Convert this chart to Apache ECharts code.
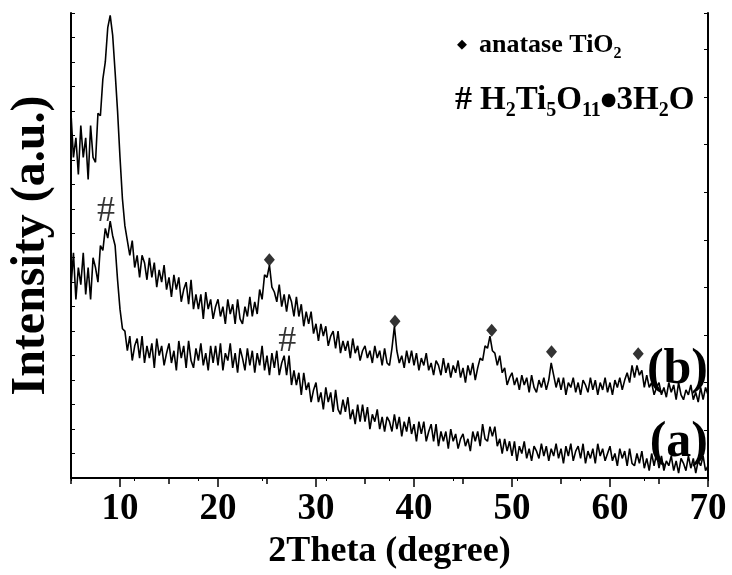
<!DOCTYPE html>
<html>
<head>
<meta charset="utf-8">
<script src="https://cdn.jsdelivr.net/npm/echarts@6.0.0/dist/echarts.min.js"></script>
<style>
  html, body { margin: 0; padding: 0; background: #fff; }
  #main { width: 732px; height: 575px; }
</style>
</head>
<body>
<div id="main"></div>
<script>
// XRD scan, 2theta from 5 to 70 deg, step 0.25 (a.u.)
var thetaStart = 5;
var thetaStep = 0.25;

// (b) upper pattern
var sampleB = [
  14.9, 13.1, 13.9, 12.4, 14.4, 13.1, 13.9, 12.2, 14.4, 13.1, 12.9, 14.9, 14.8, 16.3, 17.0, 18.4, 18.9, 18.1, 16.6, 15.0,
  13.1, 11.4, 10.3, 9.7, 9.1, 9.7, 8.6, 9.1, 8.2, 9.1, 8.8, 8.1, 9.0, 8.2, 8.8, 7.8, 8.5, 8.0, 8.7, 7.7,
  8.2, 7.4, 8.3, 7.7, 8.2, 7.2, 7.7, 8.0, 7.1, 8.1, 6.9, 7.5, 6.9, 7.5, 6.5, 7.6, 6.9, 7.3, 6.5, 7.0,
  7.3, 6.6, 7.0, 6.3, 7.3, 6.7, 7.1, 6.3, 7.3, 6.5, 6.3, 7.0, 6.6, 7.4, 6.6, 7.2, 6.7, 7.7, 7.3, 8.3,
  8.2, 8.7, 7.8, 7.6, 7.2, 7.9, 7.0, 7.5, 6.8, 7.5, 7.2, 6.6, 7.4, 6.6, 7.1, 6.2, 6.8, 6.3, 6.8, 5.9,
  6.3, 5.6, 6.3, 5.8, 6.2, 5.4, 5.8, 6.0, 5.3, 6.0, 5.1, 5.6, 5.2, 5.6, 4.9, 5.7, 5.1, 5.4, 4.8, 5.2,
  5.4, 4.9, 5.2, 4.7, 5.4, 4.9, 5.2, 4.6, 5.3, 4.7, 4.6, 5.3, 6.2, 5.2, 4.7, 5.0, 4.5, 5.2, 4.7, 5.2,
  4.6, 5.1, 4.4, 4.9, 4.6, 5.1, 4.4, 4.7, 4.2, 4.8, 4.6, 4.2, 4.9, 4.3, 4.7, 4.1, 4.6, 4.3, 4.8, 4.1,
  4.5, 3.9, 4.6, 4.2, 4.7, 4.0, 4.5, 4.9, 4.8, 5.4, 5.3, 5.8, 5.2, 5.1, 4.6, 5.0, 4.3, 4.5, 3.8, 4.1,
  4.3, 3.8, 4.1, 3.6, 4.2, 3.8, 4.1, 3.5, 4.2, 3.7, 3.5, 4.0, 3.7, 4.1, 3.6, 4.0, 4.7, 4.2, 3.7, 4.1,
  3.6, 4.1, 3.4, 3.9, 3.7, 4.1, 3.5, 3.9, 3.4, 4.0, 3.8, 3.5, 4.1, 3.6, 4.0, 3.4, 3.9, 3.6, 4.1, 3.5,
  3.9, 3.4, 4.0, 3.7, 4.1, 3.6, 4.0, 4.3, 3.9, 4.6, 4.1, 4.6, 4.2, 4.4, 3.7, 4.2, 3.7, 3.9, 3.4, 3.7,
  3.9, 3.4, 3.7, 3.3, 3.9, 3.5, 3.8, 3.2, 3.9, 3.4, 3.2, 3.6, 3.4, 3.8, 3.2, 3.5, 3.1, 3.7, 3.2, 3.7,
  3.4
];

// (a) lower pattern
var sampleA = [
  7.8, 9.2, 7.3, 8.6, 7.9, 9.2, 7.5, 8.6, 7.3, 9.0, 8.6, 8.0, 9.5, 9.3, 10.2, 9.8, 10.5, 9.9, 9.5, 8.1,
  6.9, 6.1, 6.0, 5.2, 5.8, 4.8, 5.4, 5.7, 4.9, 5.8, 4.7, 5.4, 4.9, 5.5, 4.5, 5.7, 5.0, 5.4, 4.6, 5.1,
  5.5, 4.7, 5.2, 4.4, 5.6, 4.9, 5.4, 4.5, 5.6, 4.8, 4.5, 5.3, 4.8, 5.5, 4.6, 5.1, 4.4, 5.4, 4.7, 5.4,
  4.6, 5.5, 4.4, 5.1, 4.8, 5.5, 4.5, 5.1, 4.3, 5.3, 4.9, 4.4, 5.3, 4.6, 5.2, 4.3, 5.1, 4.6, 5.4, 4.4,
  5.0, 4.2, 5.1, 4.5, 5.2, 4.2, 4.7, 5.0, 4.2, 5.0, 3.8, 4.4, 3.8, 4.3, 3.4, 4.3, 3.6, 3.9, 3.1, 3.6,
  3.9, 3.1, 3.5, 2.8, 3.7, 3.1, 3.5, 2.7, 3.6, 2.8, 2.6, 3.2, 2.7, 3.3, 2.4, 2.8, 2.2, 3.0, 2.3, 3.0,
  2.3, 2.9, 2.0, 2.6, 2.3, 2.8, 2.0, 2.5, 1.9, 2.5, 2.3, 1.9, 2.6, 2.0, 2.5, 1.7, 2.3, 1.9, 2.5, 1.8,
  2.2, 1.5, 2.3, 1.8, 2.3, 1.5, 1.9, 2.2, 1.5, 2.2, 1.3, 1.9, 1.5, 1.9, 1.2, 2.0, 1.5, 1.8, 1.2, 1.6,
  1.8, 1.3, 1.6, 1.1, 1.9, 1.5, 1.9, 1.3, 2.2, 1.6, 1.5, 2.1, 1.7, 2.1, 1.3, 1.6, 1.0, 1.6, 1.1, 1.5,
  0.9, 1.5, 0.7, 1.3, 1.0, 1.5, 0.8, 1.2, 0.7, 1.3, 1.1, 0.8, 1.4, 0.9, 1.3, 0.7, 1.2, 0.9, 1.4, 0.8,
  1.2, 0.6, 1.3, 0.9, 1.4, 0.7, 1.1, 1.3, 0.8, 1.4, 0.6, 1.1, 0.8, 1.2, 0.6, 1.4, 0.9, 1.2, 0.7, 1.0,
  1.3, 0.7, 1.0, 0.5, 1.2, 0.8, 1.1, 0.5, 1.2, 0.6, 0.5, 1.0, 0.6, 1.1, 0.4, 0.8, 0.3, 1.0, 0.5, 1.0,
  0.4, 0.9, 0.3, 0.7, 0.5, 0.9, 0.3, 0.7, 0.2, 0.8, 0.6, 0.3, 0.9, 0.4, 0.8, 0.2, 0.7, 0.5, 0.9, 0.3,
  0.5
];

// peak markers [2theta, height]
var anatasePeaks = [[25.24, 8.92], [38.06, 6.4], [47.93, 6.04], [54.03, 5.16], [62.88, 5.08]];
var hydratePeaks = [[8.56, 10.9], [27.07, 5.56]];

var xLabels = [10, 20, 30, 40, 50, 60, 70];
var xMinorTicks = [5, 15, 25, 35, 45, 55, 65];

var serif = '"Liberation Serif", "Times New Roman", serif';

function toPairs(vals) {
  return vals.map(function (v, i) {
    return [thetaStart + i * thetaStep, v];
  });
}

var chart = echarts.init(document.getElementById('main'));

// legend-like key in the upper right corner
var richKey = {
  t: { fontSize: 26, fontWeight: 'bold', fontFamily: serif, fill: '#000', lineHeight: 32 },
  s: { fontSize: 16, fontWeight: 'bold', fontFamily: serif, fill: '#000', lineHeight: 16, padding: [18, 0, 0, 0] },
  d: { fontSize: 13, fontFamily: '"DejaVu Sans"', fill: '#000', lineHeight: 32, padding: [0, 12, 0, 2] },
  T: { fontSize: 33, fontWeight: 'bold', fontFamily: serif, fill: '#000', lineHeight: 40 },
  S: { fontSize: 20, fontWeight: 'bold', fontFamily: serif, fill: '#000', lineHeight: 20, padding: [21, 0, 0, 0] },
  h: { fontSize: 34, fontWeight: 'bold', fontFamily: serif, fill: '#000', lineHeight: 40, padding: [0, 8, 0, 0] },
  o: { fontSize: 18, fontFamily: '"DejaVu Sans"', fill: '#000', lineHeight: 40 }
};

chart.setOption({
  animation: false,
  backgroundColor: '#fff',
  grid: { left: 69, right: 24, top: 13, bottom: 88 },
  xAxis: [{
    type: 'value',
    min: 5,
    max: 70,
    position: 'bottom',
    name: '2Theta (degree)',
    nameLocation: 'middle',
    nameGap: 56,
    nameTextStyle: { fontSize: 36, fontWeight: 'bold', fontFamily: serif, color: '#000' },
    axisLine: { lineStyle: { color: '#000', width: 2 } },
    axisTick: { customValues: xLabels, length: 9, lineStyle: { color: '#000', width: 1.5 } },
    axisLabel: { customValues: xLabels, fontSize: 37, fontWeight: 'bold', fontFamily: serif, color: '#000', margin: 13 },
    splitLine: { show: false }
  }, {
    // top frame
    type: 'value',
    min: 0,
    max: 10,
    interval: 1,
    position: 'top',
    axisLine: { lineStyle: { color: '#000', width: 2 } },
    axisTick: { inside: true, length: 3, lineStyle: { color: '#000' } },
    axisLabel: { show: false },
    splitLine: { show: false }
  }, {
    // minor ticks of the bottom axis
    type: 'value',
    min: 5,
    max: 70,
    position: 'bottom',
    axisLine: { show: false },
    axisTick: { customValues: xMinorTicks, length: 6, lineStyle: { color: '#000', width: 1.5 } },
    axisLabel: { show: false },
    splitLine: { show: false }
  }],
  yAxis: [{
    type: 'value',
    min: 0,
    max: 19,
    interval: 1,
    position: 'left',
    name: 'Intensity (a.u.)',
    nameLocation: 'middle',
    nameGap: 15,
    nameRotate: 90,
    nameTextStyle: { fontSize: 48, fontWeight: 'bold', fontFamily: serif, color: '#000' },
    axisLine: { lineStyle: { color: '#000', width: 2 } },
    axisTick: { inside: true, length: 4, lineStyle: { color: '#000' } },
    axisLabel: { show: false },
    splitLine: { show: false }
  }, {
    // right frame
    type: 'value',
    min: 0,
    max: 9.76,
    interval: 1,
    position: 'right',
    axisLine: { lineStyle: { color: '#000', width: 2 } },
    axisTick: { inside: true, length: 4, lineStyle: { color: '#000' } },
    axisLabel: { show: false },
    splitLine: { show: false }
  }],
  series: [{
    name: '(b)',
    type: 'line',
    data: toPairs(sampleB),
    showSymbol: false,
    lineStyle: { color: '#000', width: 1.6 }
  }, {
    name: '(a)',
    type: 'line',
    data: toPairs(sampleA),
    showSymbol: false,
    lineStyle: { color: '#000', width: 1.6 }
  }, {
    name: 'anatase',
    type: 'scatter',
    data: anatasePeaks,
    symbol: 'diamond',
    symbolSize: [11, 13],
    itemStyle: { color: '#000' }
  }, {
    name: 'hydrate',
    type: 'scatter',
    data: hydratePeaks,
    symbolSize: 1,
    itemStyle: { color: 'rgba(0,0,0,0)' },
    label: { show: true, position: 'inside', formatter: '#', fontSize: 36, fontFamily: serif, color: '#000' }
  }],
  graphic: [{
    type: 'text',
    left: 455,
    top: 28,
    style: {
      text: '{d|◆}{t|anatase TiO}{s|2}',
      fontSize: 26, fontWeight: 'bold', fontFamily: serif,
      rich: richKey
    }
  }, {
    type: 'text',
    left: 455,
    top: 80,
    style: {
      text: '{h|#}{T|H}{S|2}{T|Ti}{S|5}{T|O}{S|11}{o|●}{T|3H}{S|2}{T|O}',
      fontSize: 33, fontWeight: 'bold', fontFamily: serif,
      rich: richKey
    }
  }, {
    type: 'text',
    x: 708,
    y: 370,
    style: {
      text: '(b)', align: 'right', verticalAlign: 'middle',
      fontSize: 50, fontWeight: 'bold', fontFamily: serif, fill: '#000'
    }
  }, {
    type: 'text',
    x: 708,
    y: 443,
    style: {
      text: '(a)', align: 'right', verticalAlign: 'middle',
      fontSize: 50, fontWeight: 'bold', fontFamily: serif, fill: '#000'
    }
  }]
});
</script>
</body>
</html>
